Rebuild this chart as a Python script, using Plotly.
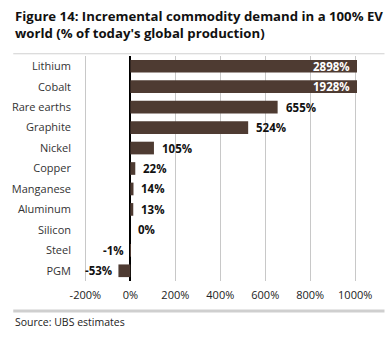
import plotly.graph_objects as go

categories = ["Lithium", "Cobalt", "Rare earths", "Graphite", "Nickel", "Copper",
              "Manganese", "Aluminum", "Silicon", "Steel", "PGM"]
demand_pct = [2898, 1928, 655, 524, 105, 22, 14, 13, 0, -1, -53]
tick_vals = [-200, 0, 200, 400, 600, 800, 1000]
tick_text = ["-200%", "0%", "200%", "400%", "600%", "800%", "1000%"]

X_MIN, X_MAX = -200, 1000
BAR = "#4e3b32"
FONT = "Open Sans"

fig = go.Figure(go.Bar(
    x=demand_pct, y=categories, orientation="h",
    marker=dict(color=BAR, line=dict(width=0)),
    width=0.62, hoverinfo="skip",
))

# value labels: clipped bars get a white label at the axis end, others sit outside
for cat, v in zip(categories, demand_pct):
    if v > X_MAX:
        fig.add_annotation(x=X_MAX, y=cat, text=f"<b>{v}%</b>", showarrow=False,
                           xanchor="right", xshift=-3,
                           font=dict(color="white", size=11.5, family=FONT))
    elif v < 0:
        fig.add_annotation(x=v, y=cat, text=f"<b>{v}%</b>", showarrow=False,
                           xanchor="right", xshift=-4,
                           font=dict(color="#111", size=11.5, family=FONT))
    else:
        fig.add_annotation(x=v, y=cat, text=f"<b>{v}%</b>", showarrow=False,
                           xanchor="left", xshift=6,
                           font=dict(color="#111", size=11.5, family=FONT))

# title, source and separator rules
fig.add_annotation(xref="paper", yref="paper", x=-0.25, y=1.225, xanchor="left", yanchor="top",
                   text="<b>Figure 14: Incremental commodity demand in a 100% EV<br>world (% of today's global production)</b>",
                   showarrow=False, align="left",
                   font=dict(size=13.2, color="#111", family=FONT))
fig.add_annotation(xref="paper", yref="paper", x=-0.25, y=-0.14, xanchor="left", yanchor="top",
                   text="Source: UBS estimates", showarrow=False, align="left",
                   font=dict(size=10.5, color="#222", family=FONT))
fig.add_shape(type="line", xref="paper", yref="paper", x0=-0.25, x1=1.10, y0=1.01, y1=1.01,
              line=dict(color="#d0d0d0", width=1))
fig.add_shape(type="line", xref="paper", yref="paper", x0=-0.25, x1=1.10, y0=-0.133, y1=-0.133,
              line=dict(color="#cfcfcf", width=3))

fig.update_layout(
    width=392, height=337,
    margin=dict(l=78, r=35, t=56, b=56),
    paper_bgcolor="white", plot_bgcolor="white",
    showlegend=False,
    font=dict(family=FONT, size=11, color="#222"),
    xaxis=dict(range=[X_MIN - 15, X_MAX + 8], tickvals=tick_vals, ticktext=tick_text,
               showgrid=True, gridcolor="#c8c8c8", gridwidth=1,
               zeroline=True, zerolinecolor="#000", zerolinewidth=1.5,
               showline=False, ticks="", tickfont=dict(size=11, color="#222"),
               ticklabelstandoff=6, fixedrange=True),
    yaxis=dict(autorange="reversed", showgrid=False, showline=False, ticks="",
               ticklabelstandoff=10, tickfont=dict(size=11, color="#333"),
               fixedrange=True),
)

fig.write_html("out.html")
